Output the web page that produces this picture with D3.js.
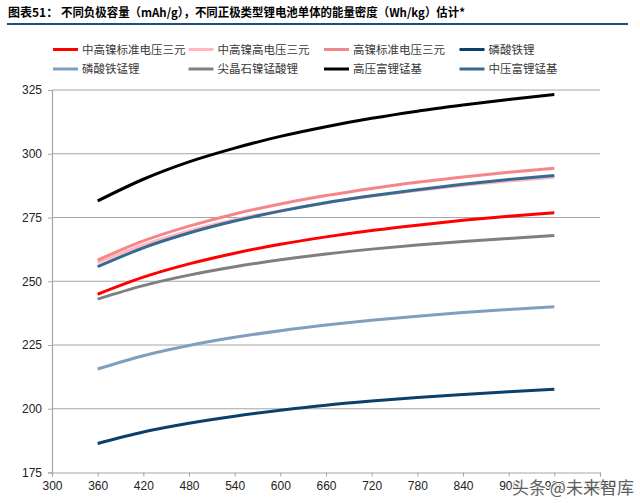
<!DOCTYPE html>
<html><head><meta charset="utf-8">
<script src="https://cdn.jsdelivr.net/npm/d3@7"></script>
<style>body{margin:0;background:#fff}svg{display:block}</style>
</head><body>
<svg id="c" width="640" height="503"></svg>
<script>
const xValues = [360,420,480,540,600,660,720,780,840,900,960];
const seriesNames = ["中高镍标准电压三元","中高镍高电压三元","高镍标准电压三元","磷酸铁锂","磷酸铁锰锂","尖晶石镍锰酸锂","高压富锂锰基","中压富锂锰基"];
const seriesColors = ["#FF0000","#FFB8BD","#F4868B","#0D3F6C","#809FBF","#7F7F7F","#000000","#366A92"];
const s1 = [244.9,251.6,256.8,261.0,264.5,267.4,269.9,272.0,273.9,275.5,276.9];
const s2 = [257.3,264.2,269.7,274.1,277.7,280.8,283.4,285.6,287.6,289.3,290.8];
const s3 = [258.3,265.8,271.6,276.4,280.3,283.6,286.4,288.8,290.9,292.7,294.3];
const s4 = [186.4,190.9,194.3,197.1,199.4,201.4,203.0,204.4,205.6,206.7,207.6];
const s5 = [215.6,220.8,224.8,228.0,230.6,232.8,234.7,236.3,237.7,238.9,240.0];
const s6 = [243.0,248.3,252.4,255.7,258.4,260.7,262.6,264.2,265.6,266.8,267.9];
const s7 = [281.5,290.0,296.8,302.2,306.8,310.6,313.9,316.7,319.1,321.3,323.2];
const s8 = [255.7,263.1,268.9,273.6,277.5,280.8,283.5,285.9,288.0,289.9,291.5];
const seriesValues = [s1,s2,s3,s4,s5,s6,s7,s8];
const xTicks = [300,360,420,480,540,600,660,720,780,840,900,960,1020];
const yTicks = [175,200,225,250,275,300,325];
const titleLabel = "图表51：";
const titleText = "不同负极容量（mAh/g），不同正极类型锂电池单体的能量密度（Wh/kg）估计*";

const svg = d3.select("#c");
const x = d3.scaleLinear().domain([300,1020]).range([52,600]);
const y = d3.scaleLinear().domain([175,325]).range([472.5,90]);

// title
svg.append("text").attr("x",8).attr("y",17).attr("font-family","'Noto Sans CJK SC',sans-serif")
  .attr("font-weight","bold").attr("font-size",12).attr("fill","#000").text(titleLabel);
svg.append("text").attr("x",61).attr("y",17).attr("font-family","'Noto Sans CJK SC',sans-serif")
  .attr("font-weight","bold").attr("font-size",12).attr("fill","#000")
  .attr("textLength",404).attr("lengthAdjust","spacingAndGlyphs").text(titleText);
svg.append("line").attr("x1",7).attr("x2",628).attr("y1",24).attr("y2",24)
  .attr("stroke","#1F4E79").attr("stroke-width",2);

// legend
const legend = svg.append("g");
seriesNames.forEach((n,i)=>{
  const col = i%4, row = Math.floor(i/4);
  const lx = 53 + col*135.5, ly = 49.5 + row*19.5;
  legend.append("line").attr("x1",lx).attr("x2",lx+25).attr("y1",ly).attr("y2",ly)
    .attr("stroke",seriesColors[i]).attr("stroke-width",3);
  legend.append("text").attr("x",lx+29).attr("y",ly).attr("dy","0.35em")
    .attr("font-family","'Noto Sans CJK SC',sans-serif").attr("font-size",11.5).attr("fill","#3a3a3a").text(n);
});

// grid
svg.append("g").selectAll("line").data(yTicks.slice(1)).join("line")
  .attr("x1",52).attr("x2",600).attr("y1",d=>y(d)).attr("y2",d=>y(d))
  .attr("stroke","#A6A6A6").attr("stroke-width",1.2);

// axes
const fontAx = "'Liberation Sans',Arial,sans-serif";
const yAxis = svg.append("g").attr("transform","translate(52,0)")
  .call(d3.axisLeft(y).tickValues(yTicks).tickSize(4).tickPadding(6));
const xAxis = svg.append("g").attr("transform","translate(0,472.5)")
  .call(d3.axisBottom(x).tickValues(xTicks).tickSize(4).tickPadding(5));
[yAxis,xAxis].forEach(a=>{
  a.select(".domain").attr("stroke","#A6A6A6").attr("stroke-width",1.2);
  a.selectAll(".tick line").attr("stroke","#A6A6A6");
  a.selectAll("text").attr("font-family",fontAx).attr("font-size",12).attr("fill","#222");
});

// lines
const line = d3.line().x((d,i)=>x(xValues[i])).y(d=>y(d)).curve(d3.curveMonotoneX);
seriesValues.forEach((vals,i)=>{
  svg.append("path").attr("d",line(vals)).attr("fill","none")
    .attr("stroke",seriesColors[i]).attr("stroke-width",3).attr("stroke-linecap","butt");
});

// watermark (overlaps the last tick labels, as in the reference)
svg.append("text").attr("x",512).attr("y",494)
  .attr("font-family","'Noto Sans CJK SC',sans-serif").attr("font-size",17)
  .attr("fill","#444").attr("stroke","#fff").attr("stroke-width",2.5).attr("paint-order","stroke")
  .attr("opacity",0.85).text("头条 @未来智库");
</script>
</body></html>
